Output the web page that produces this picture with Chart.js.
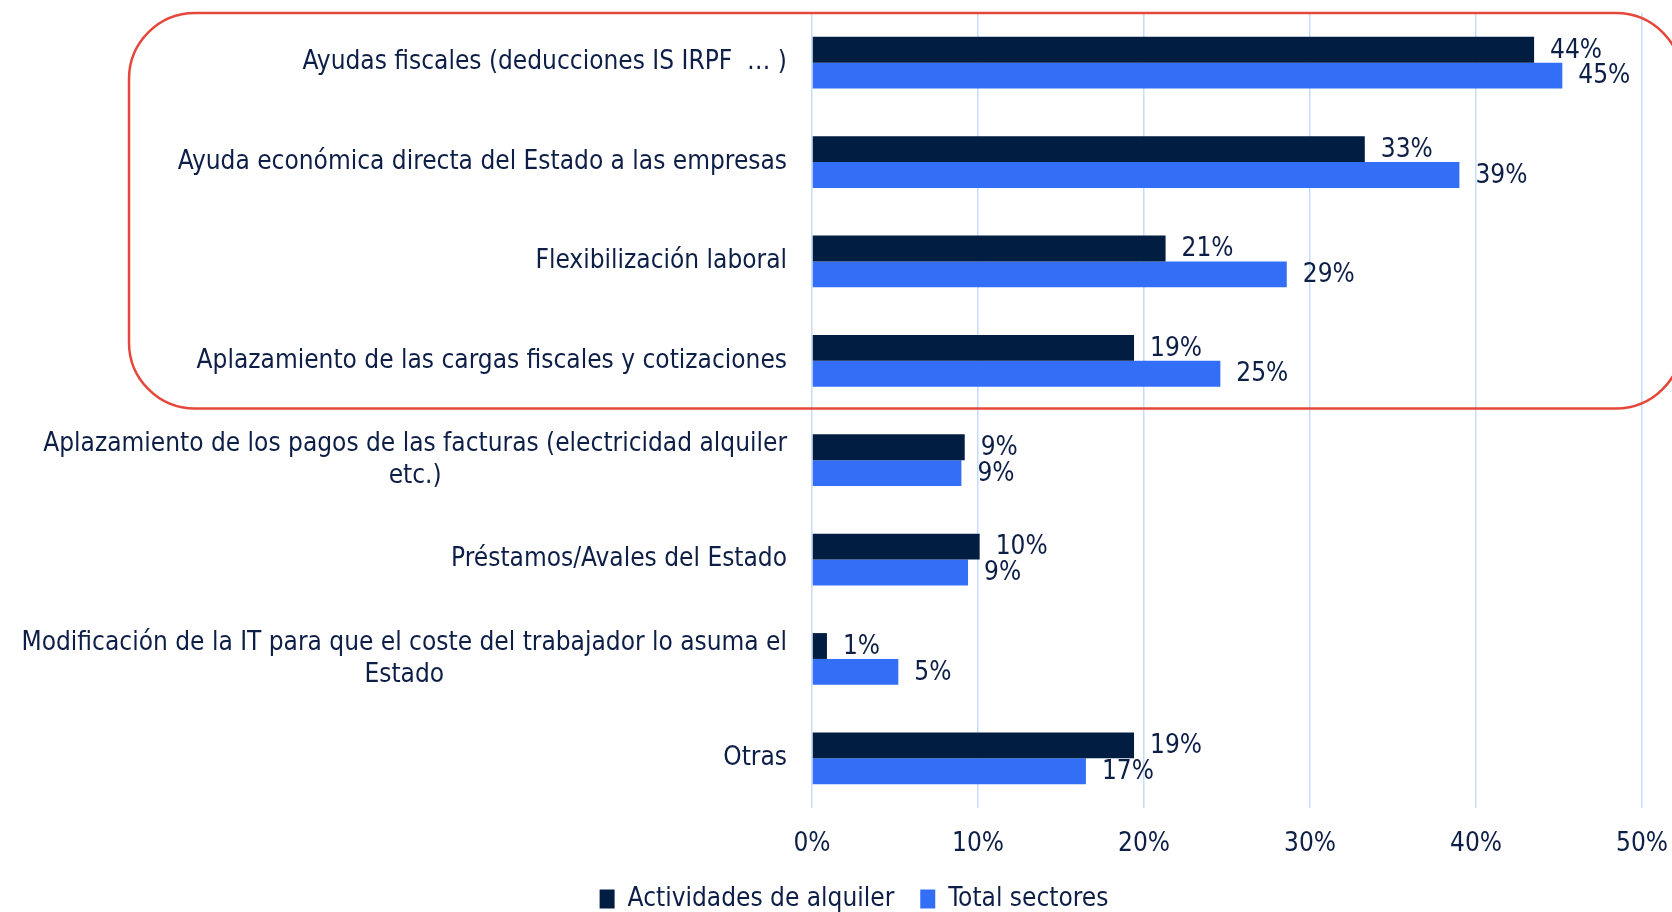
<!DOCTYPE html>
<html>
<head>
<meta charset="utf-8">
<script src="https://cdn.jsdelivr.net/npm/chart.js@4"></script>
<style>
  html, body { margin: 0; background: #fff; }
  #wrap { width: 1672px; height: 912px; }
</style>
</head>
<body>
<div id="wrap"><canvas id="chart"></canvas></div>
<script>
// categories, top to bottom
const categories = [
    ['Ayudas fiscales (deducciones IS IRPF  … )'],
    ['Ayuda económica directa del Estado a las empresas'],
    ['Flexibilización laboral'],
    ['Aplazamiento de las cargas fiscales y cotizaciones'],
    ['Aplazamiento de los pagos de las facturas (electricidad alquiler', 'etc.)'],
    ['Préstamos/Avales del Estado'],
    ['Modificación de la IT para que el coste del trabajador lo asuma el', 'Estado'],
    ['Otras']
];
const alquiler = [43.5, 33.3, 21.3, 19.4, 9.2, 10.1, 0.9, 19.4];
const totalSectores = [45.2, 39.0, 28.6, 24.6, 9.0, 9.4, 5.2, 16.5];
const xTickValues = [0, 10, 20, 30, 40, 50];
const boxedCount = 4; // first four categories are circled in red

const FONT = '"DejaVu Sans Condensed", "Liberation Sans Narrow", "DejaVu Sans", sans-serif';
const FONT_SIZE = 26;
const TEXT = '#0e1f47';

// category labels: block right-aligned to the axis, lines centred inside the block
const categoryLabels = {
    id: 'categoryLabels',
    afterDraw(chart) {
        const { ctx, chartArea, scales: { y } } = chart;
        ctx.save();
        ctx.font = FONT_SIZE + 'px ' + FONT;
        ctx.fillStyle = TEXT;
        ctx.textAlign = 'center';
        ctx.textBaseline = 'middle';
        const right = chartArea.left - 25;
        categories.forEach((lines, i) => {
            const cy = y.getPixelForValue(i);
            const w = Math.max(...lines.map(l => ctx.measureText(l).width));
            lines.forEach((l, k) => {
                ctx.fillText(l, right - w / 2, cy + (k - (lines.length - 1) / 2) * 32);
            });
        });
        ctx.restore();
    }
};

// value labels at the end of each bar
const valueLabels = {
    id: 'valueLabels',
    afterDatasetsDraw(chart) {
        const { ctx } = chart;
        ctx.save();
        ctx.font = FONT_SIZE + 'px ' + FONT;
        ctx.fillStyle = TEXT;
        ctx.textAlign = 'left';
        ctx.textBaseline = 'middle';
        chart.data.datasets.forEach((ds, di) => {
            chart.getDatasetMeta(di).data.forEach((bar, i) => {
                ctx.fillText(Math.round(ds.data[i]) + '%', bar.x + 16, bar.y + 1);
            });
        });
        ctx.restore();
    }
};

// red rounded frame around the first categories
const redFrame = {
    id: 'redFrame',
    afterDraw(chart) {
        const { ctx, chartArea, scales: { y } } = chart;
        const top = chartArea.top;
        const bottom = (y.getPixelForValue(boxedCount - 1) + y.getPixelForValue(boxedCount)) / 2 - 2;
        ctx.save();
        ctx.strokeStyle = '#e5483b';
        ctx.lineWidth = 2.5;
        ctx.beginPath();
        ctx.roundRect(129, top, 1682 - 129, bottom - top, 66);
        ctx.stroke();
        ctx.restore();
    }
};

new Chart(document.getElementById('chart'), {
    type: 'bar',
    data: {
        labels: categories,
        datasets: [
            { label: 'Actividades de alquiler', data: alquiler, backgroundColor: '#021d42' },
            { label: 'Total sectores', data: totalSectores, backgroundColor: '#336ef6' }
        ]
    },
    options: {
        indexAxis: 'y',
        responsive: true,
        maintainAspectRatio: false,
        animation: false,
        layout: { padding: { top: 13, right: 30, left: 66, bottom: -10 } },
        datasets: { bar: { categoryPercentage: 0.52, barPercentage: 1 } },
        scales: {
            x: {
                min: 0,
                max: 50,
                afterBuildTicks: s => { s.ticks = xTickValues.map(v => ({ value: v })); },
                afterFit: s => { s.height = 52; s.paddingLeft = 0; s.paddingRight = 0; },
                ticks: {
                    callback: v => v + '%',
                    color: TEXT,
                    font: { family: FONT, size: FONT_SIZE },
                    padding: 21
                },
                grid: { color: '#c6dcf8', lineWidth: 1.5, drawTicks: false },
                border: { display: false }
            },
            y: {
                ticks: { display: false },
                grid: { display: false },
                border: { display: false },
                afterFit: s => { s.width = 812 - 66; }
            }
        },
        plugins: {
            legend: {
                position: 'bottom',
                labels: {
                    color: TEXT,
                    font: { family: FONT, size: FONT_SIZE },
                    boxWidth: 15,
                    boxHeight: 19,
                    padding: 26
                }
            },
            tooltip: { enabled: false }
        }
    },
    plugins: [categoryLabels, valueLabels, redFrame]
});
</script>
</body>
</html>
